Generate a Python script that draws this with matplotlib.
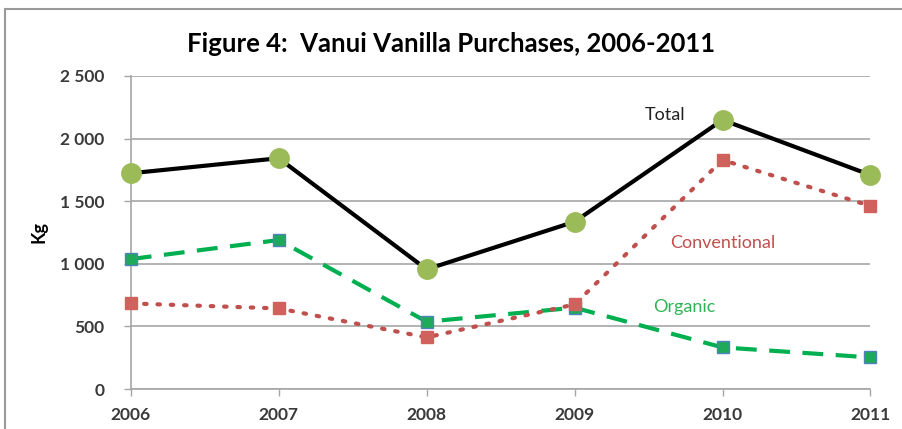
import matplotlib.pyplot as plt
from matplotlib.patches import Rectangle
from matplotlib.ticker import FuncFormatter

years = [2006, 2007, 2008, 2009, 2010, 2011]
total = [1723, 1843, 956, 1336, 2149, 1709]
conventional = [684, 644, 413, 676, 1829, 1462]
organic = [1038, 1190, 538, 650, 333, 253]
y_ticks = [0, 500, 1000, 1500, 2000, 2500]

plt.rcParams['font.family'] = ['Lato', 'DejaVu Sans']

fig = plt.figure(figsize=(9.02, 4.29), dpi=100)
ax = fig.add_axes([0.145, 0.093, 0.82, 0.73])

# frame around the whole chart
fig.patches.append(Rectangle((0.006, -0.05), 1.2, 1.03, transform=fig.transFigure,
                             fill=False, edgecolor='#9a9a9a', linewidth=1.5))

ax.plot(years, organic, color='#00B050', linestyle=(0, (5, 3)), linewidth=3,
        marker='s', markersize=8, markerfacecolor='#1faa5a', markeredgecolor='#4F81BD',
        markeredgewidth=1, clip_on=False, zorder=3)
ax.plot(years, conventional, color='#C0504D', linestyle=(0, (0.6, 2.6)), linewidth=3,
        dash_capstyle='round', marker='s', markersize=9, markerfacecolor='#d0625e',
        markeredgecolor='#d0625e', clip_on=False, zorder=4)
ax.plot(years, total, color='black', linewidth=3, marker='o', markersize=14,
        markerfacecolor='#9BBB59', markeredgecolor='#9BBB59', clip_on=False, zorder=5)

ax.text(2009.61, 2190, 'Total', fontsize=13, color='#222222', ha='center', va='center')
ax.text(2010.0, 1166, 'Conventional', fontsize=13, color='#C0504D', ha='center', va='center')
ax.text(2009.74, 655, 'Organic', fontsize=13, color='#2fb255', ha='center', va='center')

ax.set_xlim(2006, 2011)
ax.set_ylim(0, 2500)
ax.set_xticks(years)
ax.set_yticks(y_ticks)
ax.yaxis.set_major_formatter(FuncFormatter(lambda v, p: f'{int(v):,}'.replace(',', ' ')))
ax.grid(axis='y', color='#a6a6a6', linewidth=1.2)
ax.set_axisbelow(True)
for s in ['top', 'right']:
    ax.spines[s].set_visible(False)
ax.spines['left'].set_color('#a6a6a6')
ax.spines['bottom'].set_color('#a6a6a6')
ax.spines['left'].set_linewidth(1.2)
ax.spines['bottom'].set_linewidth(1.2)
ax.tick_params(axis='both', colors='#a6a6a6', length=5, width=1)
ax.tick_params(axis='x', pad=8)
ax.tick_params(axis='y', pad=14)
for lab in ax.get_xticklabels() + ax.get_yticklabels():
    lab.set_color('#3a3a3a')
    lab.set_fontsize(12.5)
    lab.set_fontweight('bold')

ax.set_ylabel('Kg', fontsize=13, fontweight='bold')
ax.yaxis.set_label_coords(-0.112, 0.5)
fig.suptitle('Figure 4:  Vanui Vanilla Purchases, 2006-2011', fontsize=18.5, fontweight='bold',
             x=0.5, y=0.925)

fig.savefig('out.png', dpi=100)
